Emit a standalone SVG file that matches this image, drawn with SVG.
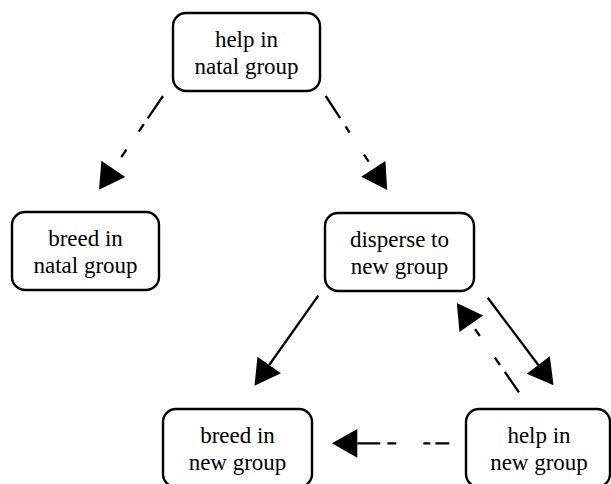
<svg xmlns="http://www.w3.org/2000/svg" width="611" height="484" viewBox="0 0 611 484">
<defs>
<style>
.box{fill:#fff;stroke:#000;stroke-width:2.4}
.lbl{font-size:23px;fill:#000;text-anchor:middle}
.edge{fill:none;stroke:#000;stroke-width:2.3;marker-end:url(#ah)}
</style>
<marker id="ah" markerUnits="userSpaceOnUse" markerWidth="30" markerHeight="30" viewBox="0 -13 24 26" refX="0" refY="0" orient="auto" overflow="visible">
<path d="M0,-12.5 L22,0 L0,12.5 Z" fill="#000"/>
</marker>
</defs>
<rect width="611" height="484" fill="#fff"/>
<g id="connectors">
<line class="edge" x1="163" y1="96" x2="113.3" y2="168.9" stroke-dasharray="27 7 9 22 9 40"/>
<line class="edge" x1="325.7" y1="96" x2="373.3" y2="168.8" stroke-dasharray="26.5 9.8 7.4 26.4 8.4 40"/>
<line class="edge" x1="318.3" y1="295.7" x2="269.2" y2="365"/>
<line class="edge" x1="487.7" y1="297.7" x2="538.3" y2="365"/>
<line class="edge" x1="519" y1="392.3" x2="471.3" y2="323.8" stroke-dasharray="24.8 8.5 8.9 26.4 8.3 40"/>
<line class="edge" x1="449.3" y1="443.3" x2="357.3" y2="443.3" stroke-dasharray="14 5 7 27 9 7 40"/>
</g>
<g font-family="Liberation Serif, DejaVu Serif, serif">
<g id="help-natal">
<rect class="box" x="173" y="13" width="147" height="78" rx="13"/>
<text class="lbl" x="246.5" y="47">help in</text>
<text class="lbl" x="246.5" y="74">natal group</text>
</g>
<g id="breed-natal">
<rect class="box" x="12" y="212" width="147" height="78" rx="13"/>
<text class="lbl" x="85.5" y="246">breed in</text>
<text class="lbl" x="85.5" y="273">natal group</text>
</g>
<g id="disperse">
<rect class="box" x="325" y="213" width="149" height="78" rx="13"/>
<text class="lbl" x="399.5" y="247">disperse to</text>
<text class="lbl" x="399.5" y="274">new group</text>
</g>
<g id="breed-new">
<rect class="box" x="163" y="409" width="149" height="78" rx="13"/>
<text class="lbl" x="237.5" y="443">breed in</text>
<text class="lbl" x="237.5" y="470">new group</text>
</g>
<g id="help-new">
<rect class="box" x="466" y="409" width="144" height="78" rx="13"/>
<text class="lbl" x="539" y="443">help in</text>
<text class="lbl" x="539" y="470">new group</text>
</g>
</g>
</svg>
